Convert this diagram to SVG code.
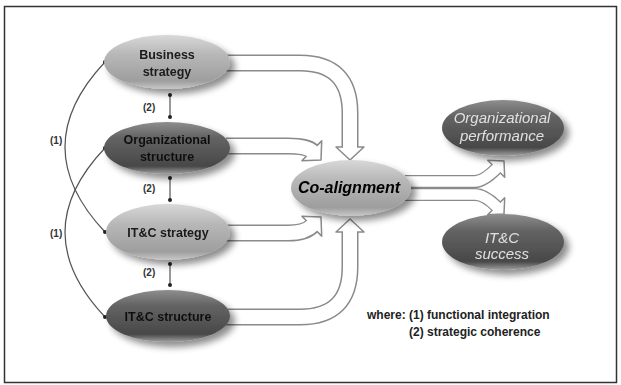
<svg xmlns="http://www.w3.org/2000/svg" width="621" height="385" viewBox="0 0 621 385">
<style>
.lbl{font-family:"Liberation Sans",Arial,sans-serif;font-weight:bold;font-size:12.5px;fill:#1a1a1a;text-anchor:middle}
.out{font-family:"Liberation Sans",Arial,sans-serif;font-style:italic;font-size:15px;fill:#e0e0e0;text-anchor:middle}
.num{font-family:"Liberation Sans",Arial,sans-serif;font-weight:bold;font-size:10px;fill:#333}
.leg{font-family:"Liberation Sans",Arial,sans-serif;font-weight:bold;font-size:12px;fill:#222}
.thin{fill:none;stroke:#555;stroke-width:1.2}
.so{fill:none;stroke:#8a8a8a;stroke-width:17}
.si{fill:none;stroke:#fff;stroke-width:14}
.so2{fill:none;stroke:#8a8a8a;stroke-width:13}
.si2{fill:none;stroke:#fff;stroke-width:10.4}
.head{fill:#fff;stroke:#8a8a8a;stroke-width:1.5;stroke-linejoin:round}
.dot{fill:#222}
</style>
<defs>
<linearGradient id="lg" x1="0" y1="0" x2="0" y2="1">
<stop offset="0" stop-color="#d8d8d8"/><stop offset="0.35" stop-color="#b8b8b8"/><stop offset="0.85" stop-color="#9e9e9e"/><stop offset="1" stop-color="#c8c8c8"/>
</linearGradient>
<linearGradient id="dg" x1="0" y1="0" x2="0" y2="1">
<stop offset="0" stop-color="#8e8e8e"/><stop offset="0.3" stop-color="#636363"/><stop offset="0.85" stop-color="#484848"/><stop offset="1" stop-color="#a0a0a0"/>
</linearGradient>
<filter id="sh" x="-20%" y="-30%" width="150%" height="170%">
<feGaussianBlur in="SourceAlpha" stdDeviation="3.5"/>
<feOffset dx="5" dy="5" result="b"/>
<feComponentTransfer><feFuncA type="linear" slope="0.45"/></feComponentTransfer>
<feMerge><feMergeNode/><feMergeNode in="SourceGraphic"/></feMerge>
</filter>
</defs>
<rect x="0" y="0" width="621" height="385" fill="#fff"/>
<rect x="4.5" y="6.5" width="612" height="376" fill="none" stroke="#333" stroke-width="1.5"/>

<g id="connectors">
<path class="thin" d="M105,62 Q25,147 105,232"/>
<path class="thin" d="M105,148 Q25,232 105,317"/>
<circle class="dot" cx="105" cy="62" r="2"/>
<circle class="dot" cx="105" cy="232" r="2"/>
<circle class="dot" cx="105" cy="148" r="2"/>
<circle class="dot" cx="105" cy="317" r="2"/>
<path class="thin" d="M170,95 V117 M170,178 V200 M170,264 V285"/>
<circle class="dot" cx="170" cy="95" r="2"/><circle class="dot" cx="170" cy="117" r="2"/>
<circle class="dot" cx="170" cy="178" r="2"/><circle class="dot" cx="170" cy="200" r="2"/>
<circle class="dot" cx="170" cy="264" r="2"/><circle class="dot" cx="170" cy="285" r="2"/>
<path class="so" d="M226,63 H300 Q350,63 350,113 V147"/>
<path class="so" d="M226,146 H288 Q307,146 311.8,150.8"/>
<path class="so" d="M226,233 H288 Q305,233 311.8,226.2"/>
<path class="so" d="M226,317 H300 Q350,317 350,267 V232"/>
<polygon class="head" points="336,147 364,147 350,160"/>
<polygon class="head" points="321.7,140.9 321,160 301.9,160.7"/>
<polygon class="head" points="321.7,236.1 321,217 301.9,216.3"/>
<polygon class="head" points="336,232 364,232 350,219"/>
<path class="si" d="M226,63 H300 Q350,63 350,113 V149"/>
<path class="si" d="M226,146 H288 Q307,146 313,152"/>
<path class="si" d="M226,233 H288 Q305,233 313,225"/>
<path class="si" d="M226,317 H300 Q350,317 350,267 V230"/>
<path class="so2" d="M405,181.5 H475 Q483.5,181.5 496.2,168.8"/>
<path class="so2" d="M405,194.5 H475 Q484.5,194.5 496.2,206.2"/>
<polygon class="head" points="504.7,177.3 504,161 487.7,160.3"/>
<polygon class="head" points="504.7,197.7 504,214 487.7,214.7"/>
<path class="si2" d="M405,181.5 H475 Q483.5,181.5 497.5,167.5"/>
<path class="si2" d="M405,194.5 H475 Q484.5,194.5 497.5,207.5"/>
</g>

<g id="n-business" filter="url(#sh)">
<ellipse cx="167" cy="62" rx="63" ry="27" fill="url(#lg)"/>
<text class="lbl" x="167" y="59">Business</text>
<text class="lbl" x="167" y="76">strategy</text>
</g>
<g id="n-orgstructure" filter="url(#sh)">
<ellipse cx="167" cy="148" rx="63" ry="26" fill="url(#dg)"/>
<text class="lbl" x="167" y="144" style="fill:#111">Organizational</text>
<text class="lbl" x="167" y="161" style="fill:#111">structure</text>
</g>
<g id="n-itcstrategy" filter="url(#sh)">
<ellipse cx="168" cy="232" rx="62" ry="28" fill="url(#lg)"/>
<text class="lbl" x="168" y="237">IT&amp;C strategy</text>
</g>
<g id="n-itcstructure" filter="url(#sh)">
<ellipse cx="168" cy="316" rx="62" ry="26" fill="url(#dg)"/>
<text class="lbl" x="168" y="321" style="fill:#111">IT&amp;C structure</text>
</g>
<g id="n-coalign" filter="url(#sh)">
<ellipse cx="351" cy="188" rx="60" ry="28" fill="url(#lg)"/>
<text class="lbl" x="349" y="193" style="font-size:16px;font-style:italic;fill:#000">Co-alignment</text>
</g>
<g id="n-orgperf" filter="url(#sh)">
<ellipse cx="503" cy="128" rx="61" ry="28" fill="url(#dg)"/>
<text class="out" x="502" y="123">Organizational</text>
<text class="out" x="502" y="141">performance</text>
</g>
<g id="n-itcsuccess" filter="url(#sh)">
<ellipse cx="503" cy="242" rx="61" ry="28" fill="url(#dg)"/>
<text class="out" x="502" y="243">IT&amp;C</text>
<text class="out" x="502" y="259">success</text>
</g>

<g id="labels">
<text class="num" x="50" y="144">(1)</text>
<text class="num" x="50" y="237">(1)</text>
<text class="num" x="143" y="111">(2)</text>
<text class="num" x="143" y="192">(2)</text>
<text class="num" x="143" y="276">(2)</text>
<text class="leg" x="367" y="319">where: (1) functional integration</text>
<text class="leg" x="409" y="336">(2) strategic coherence</text>
</g>
</svg>
